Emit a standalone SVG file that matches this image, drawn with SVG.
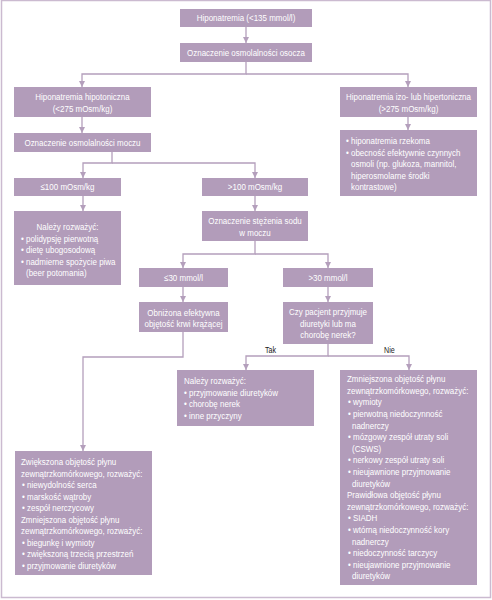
<svg xmlns="http://www.w3.org/2000/svg" width="492" height="600" viewBox="0 0 492 600">
<defs>
<marker id="ah" markerUnits="userSpaceOnUse" markerWidth="6" markerHeight="6" refX="6" refY="3" orient="auto">
<path d="M0,0 L6,3 L0,6 z" fill="#b49fbc"/>
</marker>
<style>
.box{fill:#b29cba;}
.t{font-family:"Liberation Sans",Arial,sans-serif;font-size:9.5px;fill:#ffffff;}
.c{text-anchor:middle;}
.lbl{font-family:"Liberation Sans",Arial,sans-serif;font-size:8.5px;fill:#222222;}
.con{fill:none;stroke:#b49fbc;stroke-width:1.3;marker-end:url(#ah);}
</style>
</defs>
<rect x="1.5" y="0.5" width="489" height="597" fill="#ffffff" stroke="#cbbad0" stroke-width="1.5"/>

<g id="connectors">
<path class="con" d="M246,27 V43"/>
<path class="con" d="M246,62 V74 H82 V87"/>
<path class="con" d="M246,74 H408 V87"/>
<path class="con" d="M82,117 V133"/>
<path class="con" d="M408,117 V130"/>
<path class="con" d="M112,152 V163 H83 V178"/>
<path class="con" d="M112,163 H255 V178"/>
<path class="con" d="M83,196 V211"/>
<path class="con" d="M255,196 V211"/>
<path class="con" d="M255,241 V254 H183 V268"/>
<path class="con" d="M255,254 H328 V268"/>
<path class="con" d="M183,287 V302"/>
<path class="con" d="M328,287 V302"/>
<path class="con" d="M328,344 V356 H246 V370"/>
<path class="con" d="M328,356 H409 V370"/>
<path class="con" d="M183,332 V357 H83 V451"/>
<text class="lbl" x="265" y="353" transform="matrix(0.84 0 0 1 42.4 0)">Tak</text>
<text class="lbl" x="384" y="353" transform="matrix(0.84 0 0 1 61.44 0)">Nie</text>
</g>

<g id="n1"><rect class="box" x="180" y="9" width="132" height="18"/>
<text class="t c" x="246" y="21.3" transform="matrix(0.84 0 0 1 39.36 0)">Hiponatremia (&lt;135 mmol/l)</text></g>

<g id="n2"><rect class="box" x="180" y="43" width="132" height="19"/>
<text class="t c" x="246" y="55.8" transform="matrix(0.84 0 0 1 39.36 0)">Oznaczenie osmolalności osocza</text></g>

<g id="n3"><rect class="box" x="14" y="87" width="137" height="30"/>
<text class="t c" x="82.5" y="100.3" transform="matrix(0.84 0 0 1 13.2 0)">Hiponatremia hipotoniczna</text>
<text class="t c" x="82.5" y="111.8" transform="matrix(0.84 0 0 1 13.2 0)">(&lt;275 mOsm/kg)</text></g>

<g id="n4"><rect class="box" x="340" y="87" width="137" height="30"/>
<text class="t c" x="408.5" y="100.3" transform="matrix(0.84 0 0 1 65.36 0)">Hiponatremia izo- lub hipertoniczna</text>
<text class="t c" x="408.5" y="111.8" transform="matrix(0.84 0 0 1 65.36 0)">(&gt;275 mOsm/kg)</text></g>

<g id="n5"><rect class="box" x="14" y="133" width="137" height="19"/>
<text class="t c" x="82.5" y="145.8" transform="matrix(0.84 0 0 1 13.2 0)">Oznaczenie osmolalności moczu</text></g>

<g id="n6"><rect class="box" x="340" y="130" width="137" height="66"/>
<text class="t" x="346" y="144.3" transform="matrix(0.84 0 0 1 55.36 0)">• hiponatremia rzekoma</text>
<text class="t" x="346" y="155.8" transform="matrix(0.84 0 0 1 55.36 0)">• obecność efektywnie czynnych</text>
<text class="t" x="351" y="167.3" transform="matrix(0.84 0 0 1 56.16 0)">osmoli (np. glukoza, mannitol,</text>
<text class="t" x="351" y="178.8" transform="matrix(0.84 0 0 1 56.16 0)">hiperosmolarne środki</text>
<text class="t" x="351" y="190.3" transform="matrix(0.84 0 0 1 56.16 0)">kontrastowe)</text></g>

<g id="n7"><rect class="box" x="14" y="178" width="107" height="18"/>
<text class="t c" x="67.5" y="190.3" transform="matrix(0.84 0 0 1 10.8 0)">≤100 mOsm/kg</text></g>

<g id="n8"><rect class="box" x="202" y="178" width="106" height="18"/>
<text class="t c" x="255" y="190.3" transform="matrix(0.84 0 0 1 40.8 0)">&gt;100 mOsm/kg</text></g>

<g id="n9"><rect class="box" x="14" y="211" width="107" height="74"/>
<text class="t c" x="67.5" y="230.3" transform="matrix(0.84 0 0 1 10.8 0)">Należy rozważyć:</text>
<text class="t" x="21" y="241.8" transform="matrix(0.84 0 0 1 3.36 0)">• polidypsję pierwotną</text>
<text class="t" x="21" y="253.3" transform="matrix(0.84 0 0 1 3.36 0)">• dietę ubogosodową</text>
<text class="t" x="21" y="264.8" transform="matrix(0.84 0 0 1 3.36 0)">• nadmierne spożycie piwa</text>
<text class="t" x="26" y="276.3" transform="matrix(0.84 0 0 1 4.16 0)">(beer potomania)</text></g>

<g id="n10"><rect class="box" x="202" y="211" width="106" height="30"/>
<text class="t c" x="255" y="224.3" transform="matrix(0.84 0 0 1 40.8 0)">Oznaczenie stężenia sodu</text>
<text class="t c" x="255" y="235.8" transform="matrix(0.84 0 0 1 40.8 0)">w moczu</text></g>

<g id="n11"><rect class="box" x="139" y="268" width="89" height="19"/>
<text class="t c" x="183.5" y="280.8" transform="matrix(0.84 0 0 1 29.36 0)">≤30 mmol/l</text></g>

<g id="n12"><rect class="box" x="283" y="268" width="90" height="19"/>
<text class="t c" x="328" y="280.8" transform="matrix(0.84 0 0 1 52.48 0)">&gt;30 mmol/l</text></g>

<g id="n13"><rect class="box" x="139" y="302" width="89" height="30"/>
<text class="t c" x="183.5" y="315.8" transform="matrix(0.84 0 0 1 29.36 0)">Obniżona efektywna</text>
<text class="t c" x="183.5" y="327.3" transform="matrix(0.84 0 0 1 29.36 0)">objętość krwi krążącej</text></g>

<g id="n14"><rect class="box" x="283" y="302" width="90" height="42"/>
<text class="t c" x="328" y="315.3" transform="matrix(0.84 0 0 1 52.48 0)">Czy pacjent przyjmuje</text>
<text class="t c" x="328" y="326.8" transform="matrix(0.84 0 0 1 52.48 0)">diuretyki lub ma</text>
<text class="t c" x="328" y="338.3" transform="matrix(0.84 0 0 1 52.48 0)">chorobę nerek?</text></g>

<g id="n15"><rect class="box" x="177" y="370" width="137" height="56"/>
<text class="t" x="184" y="384.3" transform="matrix(0.84 0 0 1 29.44 0)">Należy rozważyć:</text>
<text class="t" x="184" y="395.8" transform="matrix(0.84 0 0 1 29.44 0)">• przyjmowanie diuretyków</text>
<text class="t" x="184" y="407.3" transform="matrix(0.84 0 0 1 29.44 0)">• chorobę nerek</text>
<text class="t" x="184" y="418.8" transform="matrix(0.84 0 0 1 29.44 0)">• inne przyczyny</text></g>

<g id="n16"><rect class="box" x="340" y="370" width="137" height="215"/>
<text class="t" x="347" y="382.3" transform="matrix(0.84 0 0 1 55.52 0)">Zmniejszona objętość płynu</text>
<text class="t" x="347" y="393.9" transform="matrix(0.84 0 0 1 55.52 0)">zewnątrzkomórkowego, rozważyć:</text>
<text class="t" x="348" y="405.5" transform="matrix(0.84 0 0 1 55.68 0)">• wymioty</text>
<text class="t" x="348" y="417.1" transform="matrix(0.84 0 0 1 55.68 0)">•  pierwotną niedoczynność</text>
<text class="t" x="352" y="428.7" transform="matrix(0.84 0 0 1 56.32 0)">nadnerczy</text>
<text class="t" x="348" y="440.3" transform="matrix(0.84 0 0 1 55.68 0)">• mózgowy zespół utraty soli</text>
<text class="t" x="352" y="451.9" transform="matrix(0.84 0 0 1 56.32 0)">(CSWS)</text>
<text class="t" x="348" y="463.5" transform="matrix(0.84 0 0 1 55.68 0)">• nerkowy zespół utraty soli</text>
<text class="t" x="348" y="475.1" transform="matrix(0.84 0 0 1 55.68 0)">• nieujawnione przyjmowanie</text>
<text class="t" x="352" y="486.7" transform="matrix(0.84 0 0 1 56.32 0)">diuretyków</text>
<text class="t" x="347" y="498.3" transform="matrix(0.84 0 0 1 55.52 0)">Prawidłowa objętość płynu</text>
<text class="t" x="347" y="509.9" transform="matrix(0.84 0 0 1 55.52 0)">zewnątrzkomórkowego, rozważyć:</text>
<text class="t" x="348" y="521.5" transform="matrix(0.84 0 0 1 55.68 0)">• SIADH</text>
<text class="t" x="348" y="533.1" transform="matrix(0.84 0 0 1 55.68 0)">• wtórną niedoczynność kory</text>
<text class="t" x="352" y="544.7" transform="matrix(0.84 0 0 1 56.32 0)">nadnerczy</text>
<text class="t" x="348" y="556.3" transform="matrix(0.84 0 0 1 55.68 0)">• niedoczynność tarczycy</text>
<text class="t" x="348" y="567.9" transform="matrix(0.84 0 0 1 55.68 0)">• nieujawnione przyjmowanie</text>
<text class="t" x="352" y="579.5" transform="matrix(0.84 0 0 1 56.32 0)">diuretyków</text></g>

<g id="n17"><rect class="box" x="15" y="451" width="137" height="124"/>
<text class="t" x="21" y="465.3" transform="matrix(0.84 0 0 1 3.36 0)">Zwiększona objętość płynu</text>
<text class="t" x="21" y="476.8" transform="matrix(0.84 0 0 1 3.36 0)">zewnątrzkomórkowego, rozważyć:</text>
<text class="t" x="22" y="488.3" transform="matrix(0.84 0 0 1 3.52 0)">• niewydolność serca</text>
<text class="t" x="22" y="499.8" transform="matrix(0.84 0 0 1 3.52 0)">• marskość wątroby</text>
<text class="t" x="22" y="511.3" transform="matrix(0.84 0 0 1 3.52 0)">• zespół nerczycowy</text>
<text class="t" x="21" y="522.8" transform="matrix(0.84 0 0 1 3.36 0)">Zmniejszona objętość płynu</text>
<text class="t" x="21" y="534.3" transform="matrix(0.84 0 0 1 3.36 0)">zewnątrzkomórkowego, rozważyć:</text>
<text class="t" x="22" y="545.8" transform="matrix(0.84 0 0 1 3.52 0)">• biegunkę i wymioty</text>
<text class="t" x="22" y="557.3" transform="matrix(0.84 0 0 1 3.52 0)">• zwiększoną trzecią przestrzeń</text>
<text class="t" x="22" y="568.8" transform="matrix(0.84 0 0 1 3.52 0)">• przyjmowanie diuretyków</text></g>
</svg>
